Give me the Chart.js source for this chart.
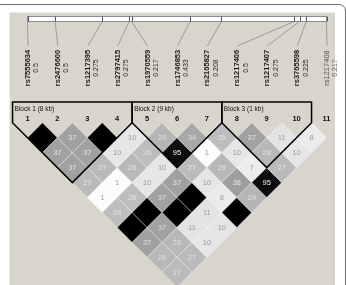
<!DOCTYPE html>
<html><head><meta charset="utf-8">
<script src="https://cdn.jsdelivr.net/npm/chart.js@4/dist/chart.umd.min.js"></script>
<style>html,body{margin:0;padding:0;background:#fff;overflow:hidden}canvas{display:block}</style>
</head><body>
<canvas id="c" width="346" height="285"></canvas>
<script>
// ---- data ----
const snpNumbers = ['1','2','3','4','5','6','7','8','9','10','11'];
const snpNames = ['rs7555634','rs2476600','rs1217395','rs2797415','rs1970559','rs1746853','rs2165827','rs1217406','rs1217407','rs3765598','rs1217408'];
const snpFreqs = ['0.5','0.5','0.275','0.275','0.217','0.433','0.208','0.5','0.275','0.225','0.217'];
// physical positions along the top bar (kb, estimated)
const snpPositions = [0, 2.3, 6.25, 8.5, 8.7, 13.6, 16.2, 22.3, 22.75, 23.3, 25];
// pairwise LD values (x100); row i holds pairs (i, j>i); 100 = black cell without number
const ldRow1  = [100, 37, 37, 27, 1, 26, 100, 37, 28, 27];
const ldRow2  = [37, 37, 27, 1, 26, 100, 37, 28, 27];
const ldRow3  = [100, 10, 28, 10, 37, 100, 11, 10];
const ldRow4  = [10, 26, 10, 37, 100, 11, 10];
const ldRow5  = [29, 95, 27, 10, 8, 100];
const ldRow6  = [34, 1, 28, 38, 29];
const ldRow7  = [26, 10, 7, 95];
const ldRow8  = [37, 28, 27];
const ldRow9  = [11, 10];
const ldRow10 = [8];
const blockLabels = ['Block 1 (8 kb)', 'Block 2 (9 kb)', 'Block 3 (1 kb)'];
const blockStarts = [1, 5, 8];
const blockEnds   = [4, 7, 10];

// ---- build table for the library ----
const ldRows = [ldRow1, ldRow2, ldRow3, ldRow4, ldRow5, ldRow6, ldRow7, ldRow8, ldRow9, ldRow10];
const cells = [];
ldRows.forEach((row, ii) => row.forEach((v, k) => {
  const i = ii + 1, j = i + k + 1;
  cells.push({x: (i + j) / 2, y: j - i, v: v});
}));

// ---- layout ----
const X0 = 27.5, XSTEP = 29.9, Y0 = 122.8, YSTEP = XSTEP / 2;
const W = 346, H = 285;
const X_MIN = 1 - X0 / XSTEP, X_MAX = 1 + (W - X0) / XSTEP;
const Y_MIN = -Y0 / YSTEP, Y_MAX = (H - Y0) / YSTEP;

function shade(v) {
  const g = Math.round(255 * (1 - v / 100));
  return 'rgb(' + g + ',' + g + ',' + g + ')';
}
function half(chart) {
  const xs = chart.scales.x;
  return (xs.getPixelForValue(2) - xs.getPixelForValue(1)) / 2;
}

const bgPlugin = {
  id: 'bg',
  beforeDraw(chart) {
    const ctx = chart.ctx;
    ctx.save();
    ctx.fillStyle = '#ffffff';
    ctx.fillRect(0, 0, W, H);
    ctx.fillStyle = '#d8d5cd';
    ctx.fillRect(9.5, 12.5, 325.5, H - 12.5);
    ctx.strokeStyle = '#6e6e6e';
    ctx.lineWidth = 1;
    ctx.beginPath();
    ctx.moveTo(0, 4.5);
    ctx.lineTo(339, 4.5);
    ctx.arcTo(345.5, 4.5, 345.5, 11, 6.5);
    ctx.lineTo(345.5, H);
    ctx.stroke();
    ctx.restore();
  }
};

const overlayPlugin = {
  id: 'overlay',
  afterDatasetsDraw(chart) {
    const ctx = chart.ctx, xs = chart.scales.x, ys = chart.scales.y;
    const h = half(chart);
    const n = snpNames.length;
    ctx.save();
    // cell numbers
    const meta = chart.getDatasetMeta(0);
    ctx.font = '7.5px "Liberation Sans"';
    ctx.textAlign = 'center';
    ctx.textBaseline = 'middle';
    meta.data.forEach((el, k) => {
      const v = cells[k].v;
      if (v >= 100) return;
      ctx.fillStyle = v >= 50 ? '#f0f0f0' : (v >= 20 ? '#e2e2e2' : '#9c9c9c');
      ctx.fillText(String(v), el.x, el.y + 0.5);
    });

    // top bar with SNP position ticks
    const xa = xs.getPixelForValue(1), xb = xs.getPixelForValue(n);
    const p0 = snpPositions[0], pN = snpPositions[n - 1];
    const barTop = 16.5, barBot = 21.5;
    ctx.fillStyle = '#ffffff';
    ctx.fillRect(xa, barTop, xb - xa, barBot - barTop);
    ctx.strokeStyle = '#8a8a8a';
    ctx.lineWidth = 1;
    ctx.strokeRect(xa, barTop, xb - xa, barBot - barTop);
    const inBlock = snpNames.map((_, i) => blockStarts.some((s, b) => i + 1 >= s && i + 1 <= blockEnds[b]));
    for (let i = 0; i < n; i++) {
      const tx = xs.getPixelForValue(1 + (n - 1) * (snpPositions[i] - p0) / (pN - p0));
      const sx = xs.getPixelForValue(i + 1);
      ctx.strokeStyle = '#555';
      ctx.lineWidth = 1;
      ctx.beginPath(); ctx.moveTo(Math.round(tx) + 0.5, barTop); ctx.lineTo(Math.round(tx) + 0.5, barBot); ctx.stroke();
      ctx.strokeStyle = '#8c8c8c';
      ctx.lineWidth = 0.8;
      ctx.beginPath(); ctx.moveTo(tx, barBot); ctx.lineTo(sx + 0.5, 46); ctx.stroke();
      // rotated labels
      ctx.save();
      ctx.translate(sx + 0.5, 68);
      ctx.rotate(-Math.PI / 2);
      ctx.textAlign = 'center';
      ctx.textBaseline = 'middle';
      ctx.fillStyle = inBlock[i] ? '#1a1a1a' : '#555';
      ctx.font = (inBlock[i] ? 'bold ' : '') + '7.5px "Liberation Sans"';
      ctx.fillText(snpNames[i], 0, 0);
      ctx.fillStyle = inBlock[i] ? '#2a2a2a' : '#666';
      ctx.font = '7px "Liberation Sans"';
      ctx.fillText(snpFreqs[i], 0, 8.5);
      ctx.restore();
    }

    // SNP numbers
    ctx.fillStyle = '#111';
    ctx.font = 'bold 7.5px "Liberation Sans"';
    ctx.textAlign = 'center';
    ctx.textBaseline = 'middle';
    for (let i = 0; i < n; i++) {
      ctx.fillText(snpNumbers[i], xs.getPixelForValue(i + 1), 119);
    }

    // blocks
    const diagTop = ys.getPixelForValue(0);
    const boxTop = 102;
    ctx.strokeStyle = '#000';
    ctx.lineWidth = 1.5;
    ctx.lineJoin = 'miter';
    blockStarts.forEach((s, b) => {
      const e = blockEnds[b];
      const L = xs.getPixelForValue(s) - h, R = xs.getPixelForValue(e) + h;
      const bx = xs.getPixelForValue((s + e) / 2), by = ys.getPixelForValue(e - s) + h;
      ctx.beginPath();
      ctx.moveTo(L, boxTop);
      ctx.lineTo(R, boxTop);
      ctx.lineTo(R, diagTop);
      ctx.lineTo(bx, by);
      ctx.lineTo(L, diagTop);
      ctx.closePath();
      ctx.stroke();
      ctx.fillStyle = '#111';
      ctx.font = '6.5px "Liberation Sans"';
      ctx.textAlign = 'left';
      ctx.textBaseline = 'middle';
      ctx.fillText(blockLabels[b], L + 2, 109);
    });
    ctx.restore();
  }
};

new Chart(document.getElementById('c').getContext('2d'), {
  type: 'scatter',
  data: {
    datasets: [{
      data: cells,
      pointStyle: 'rectRot',
      pointRadius: c => half(c.chart),
      pointHoverRadius: c => half(c.chart),
      backgroundColor: c => shade(c.raw ? c.raw.v : 0),
      borderColor: 'rgba(255,255,255,0.45)',
      borderWidth: 0.8
    }]
  },
  options: {
    responsive: false,
    animation: false,
    devicePixelRatio: 1,
    events: [],
    layout: {padding: 0},
    plugins: {legend: {display: false}, tooltip: {enabled: false}},
    scales: {
      x: {type: 'linear', display: false, min: X_MIN, max: X_MAX},
      y: {type: 'linear', display: false, reverse: true, min: Y_MIN, max: Y_MAX}
    }
  },
  plugins: [bgPlugin, overlayPlugin]
});
</script>
</body></html>
